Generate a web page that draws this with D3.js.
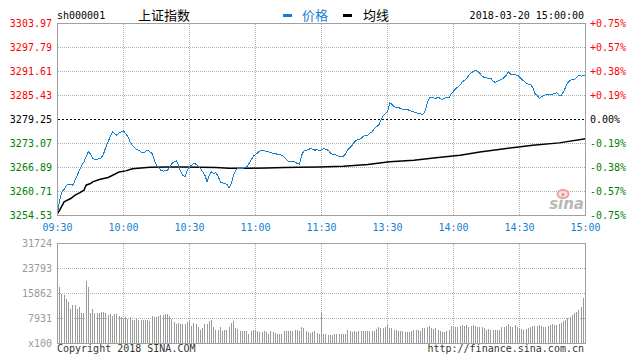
<!DOCTYPE html>
<html>
<head>
<meta charset="utf-8">
<script src="https://cdn.jsdelivr.net/npm/d3@7"></script>
<style>
body { margin: 0; background: #fff; }
svg { display: block; }
text { font-family: "DejaVu Sans Mono", "Liberation Mono", monospace; font-size: 10px; }
</style>
</head>
<body>
<div id="chart"></div>
<script>
// 上证指数 分时 2018-03-20
const prevClose = 3279.25;
const priceTicks = [3303.97, 3297.79, 3291.61, 3285.43, 3279.25, 3273.07, 3266.89, 3260.71, 3254.53];
const pctTicks = ["+0.75%", "+0.57%", "+0.38%", "+0.19%", "0.00%", "-0.19%", "-0.38%", "-0.57%", "-0.75%"];
const timeSlots = [0, 30, 60, 90, 120, 150, 180, 210, 240];
const timeLabels = ["09:30", "10:00", "10:30", "11:00", "11:30", "13:30", "14:00", "14:30", "15:00"];
const volTicks = [31724, 23793, 15862, 7931];

// [minute slot from open, price]
const priceLine = [
  [0,3255.05],[1,3258.47],[2,3260.61],[3,3261.22],[4,3262.33],[6,3262.59],[7,3262.33],[8,3263.62],
  [9,3264.91],[10,3266.19],[11,3267.48],[12,3268.34],[13,3269.63],[14,3270.91],[15,3270.31],[16,3269.20],
  [17,3268.94],[19,3269.11],[20,3269.46],[21,3270.49],[22,3272.20],[23,3273.49],[24,3274.95],[25,3276.06],
  [26,3275.64],[27,3275.21],[28,3275.81],[30,3276.32],[31,3275.64],[32,3274.78],[33,3273.49],[34,3272.63],
  [36,3271.52],[37,3271.35],[38,3270.91],[39,3270.66],[41,3271.35],[42,3270.91],[43,3270.49],[44,3268.77],
  [45,3267.48],[47,3266.19],[48,3265.94],[50,3266.19],[51,3267.05],[52,3267.91],[53,3268.34],[54,3268.60],
  [55,3267.48],[56,3265.76],[57,3264.91],[58,3264.48],[59,3266.19],[60,3267.05],[61,3267.48],[62,3267.91],
  [63,3267.74],[64,3267.22],[65,3266.62],[67,3264.91],[68,3263.19],[69,3264.91],[70,3265.76],[71,3265.34],
  [72,3265.51],[73,3264.65],[74,3263.19],[75,3262.93],[77,3262.59],[78,3261.73],[79,3262.76],[80,3264.91],
  [81,3266.19],[82,3266.62],[84,3266.62],[86,3267.05],[87,3267.91],[88,3268.77],[89,3269.80],[91,3270.66],
  [92,3271.17],[93,3271.35],[94,3271.17],[96,3270.91],[97,3270.66],[100,3270.31],[102,3270.06],[103,3269.63],
  [105,3268.51],[106,3268.34],[108,3268.34],[109,3267.91],[110,3267.74],[111,3270.06],[112,3271.17],[114,3271.52],
  [115,3271.77],[117,3271.35],[118,3271.52],[119,3271.17],[121,3271.77],[122,3271.52],[123,3271.35],[124,3270.66],
  [125,3270.23],[127,3270.06],[128,3269.63],[129,3269.63],[130,3269.80],[131,3270.49],[132,3271.52],[134,3272.63],
  [135,3273.49],[136,3273.92],[138,3274.35],[139,3274.95],[140,3275.21],[141,3275.21],[142,3275.81],[143,3276.06],
  [144,3276.92],[146,3277.78],[147,3279.07],[148,3280.10],[149,3280.79],[150,3281.21],[151,3283.53],[152,3283.19],
  [153,3282.50],[155,3282.33],[157,3281.82],[159,3281.82],[161,3281.39],[162,3281.21],[164,3280.79],[166,3280.61],
  [167,3281.21],[168,3283.36],[169,3284.82],[171,3284.82],[172,3284.65],[173,3285.08],[174,3284.65],[175,3284.39],
  [177,3285.08],[178,3284.82],[179,3285.94],[180,3286.54],[181,3287.22],[182,3287.65],[183,3288.08],[184,3288.94],
  [186,3289.80],[187,3290.66],[188,3291.26],[190,3291.94],[191,3291.69],[192,3291.09],[193,3290.40],[194,3290.06],
  [195,3289.97],[197,3289.80],[198,3289.20],[199,3288.77],[200,3289.11],[202,3289.63],[203,3290.06],[204,3290.66],
  [205,3291.51],[206,3290.91],[207,3290.83],[209,3290.66],[210,3290.23],[211,3289.63],[213,3288.68],[214,3288.34],
  [215,3288.26],[216,3287.48],[217,3285.94],[218,3285.51],[219,3284.65],[220,3285.08],[222,3285.68],[224,3285.77],
  [225,3285.77],[227,3286.11],[228,3285.51],[229,3285.51],[230,3286.36],[231,3287.65],[232,3288.77],[233,3289.37],
  [235,3289.63],[236,3290.06],[237,3290.66],[238,3290.40],[239,3290.49],[240,3290.66]
];

// [minute slot, average price]
const avgLine = [
  [0,3255.05],[1,3255.89],[3,3258.04],[6,3258.90],[8,3259.76],[10,3260.36],[12,3261.04],[13,3262.33],
  [15,3262.76],[16,3263.19],[19,3263.79],[23,3264.31],[26,3265.16],[28,3265.76],[31,3266.02],[34,3266.54],
  [38,3266.79],[42,3266.97],[50,3267.05],[57,3267.05],[65,3266.97],[72,3266.88],[78,3266.71],[88,3266.71],
  [95,3266.79],[103,3266.88],[110,3266.97],[119,3267.05],[130,3267.22],[141,3267.65],[151,3268.34],[162,3268.77],
  [172,3269.37],[183,3270.06],[192,3270.91],[204,3271.77],[216,3272.63],[228,3273.23],[240,3274.32]
];

// 成交量 (x100), slots 1..239
const volumes = [
  17990,15860,15230,13960,13010,11100,12210,12210,10790,11580,9830,9520,19670,17770,9830,10790,9520,9520,9830,10150,
  9990,9520,9040,9360,8720,9200,9200,8570,8410,7930,
  8470,7930,8470,7610,7610,7710,7610,7390,7390,7390,7390,7070,8660,8250,8470,8780,8980,8980,9200,9420,
  8660,7930,6880,6340,6560,6340,6340,6120,6880,7200,
  5710,6440,6030,5080,4350,4760,6030,6340,6980,7300,5390,4440,4440,5080,4120,4440,4440,5080,6660,6980,
  4980,4660,4120,3810,3810,3810,3080,3810,4440,4440,
  3900,3580,3710,3810,3580,3080,4120,3710,3270,3080,3080,3170,4120,4120,4120,4120,4120,4440,4440,3810,
  5080,4980,4120,3580,3390,3580,3810,3390,3080,9520,
  3080,3170,2760,2540,2760,2860,2860,2860,3080,3170,3170,4440,3810,3580,3810,3580,3810,3810,3900,3810,
  4120,4120,4120,4120,4540,5080,4760,4760,5080,5930,
  4760,4760,4440,4440,3810,4120,4120,3580,3580,3580,3900,4220,4440,4440,3900,4760,4980,5080,5490,4980,
  4540,4760,4220,3900,3710,3490,3810,4220,5490,5300,
  5300,5300,5490,5810,5610,5810,5080,5490,5810,5490,5300,5080,5300,4760,4350,4540,4220,4220,4220,4220,
  4220,5300,5300,5610,6120,5490,5080,5810,5390,4760,
  4540,4350,4540,4980,5300,5710,5490,5490,5810,5490,5300,5300,5610,5810,6120,5810,5810,6120,6560,7200,
  7610,8150,8470,8980,9740,10060,10560,11640,14500
];

const W = 635, H = 362;
const plotLeft = 57.5, plotRight = 585.5;
const plotTop = 23.5, plotBottom = 215.5;
const volTop = 243.5, volBottom = 343.5;

const blue = "#1380d2", red = "#ff0000", green = "#008000", frameGray = "#a0a0a0";

const svg = d3.select("#chart").append("svg")
    .attr("width", W)
    .attr("height", H);

const x = d3.scaleLinear().domain([0, 240]).range([plotLeft, plotRight]);
const y = d3.scaleLinear().domain([priceTicks[8], priceTicks[0]]).range([plotBottom, plotTop]);
const vy = d3.scaleLinear().domain([0, volTicks[0]]).range([volBottom, volTop]);

// 头部
svg.append("text").attr("x", 57).attr("y", 19).text("sh000001");
svg.append("text").attr("x", 138).attr("y", 20)
    .style("font-family", "'Noto Sans CJK SC', sans-serif").style("font-size", "13px")
    .text("上证指数");
svg.append("rect").attr("x", 283).attr("y", 14).attr("width", 9).attr("height", 3).attr("fill", blue);
svg.append("text").attr("x", 302).attr("y", 20).attr("fill", blue)
    .style("font-family", "'Noto Sans CJK SC', sans-serif").style("font-size", "13px")
    .text("价格");
svg.append("rect").attr("x", 343).attr("y", 14).attr("width", 9).attr("height", 3).attr("fill", "#000");
svg.append("text").attr("x", 363).attr("y", 20)
    .style("font-family", "'Noto Sans CJK SC', sans-serif").style("font-size", "13px")
    .text("均线");
svg.append("text").attr("x", 584).attr("y", 19).attr("text-anchor", "end").text("2018-03-20 15:00:00");

// 网格
const grid = svg.append("g").attr("shape-rendering", "crispEdges");
grid.selectAll(".hg").data(priceTicks.slice(1, 8)).enter().append("line")
    .attr("x1", plotLeft).attr("x2", plotRight)
    .attr("y1", d => y(d)).attr("y2", d => y(d))
    .attr("stroke", d => d === prevClose ? "#000" : "#b0b0b0")
    .attr("stroke-dasharray", d => d === prevClose ? "2,2" : "1,1");
grid.selectAll(".vg").data(timeSlots.slice(1, 8)).enter().append("line")
    .attr("x1", d => x(d)).attr("x2", d => x(d))
    .attr("y1", plotTop).attr("y2", plotBottom)
    .attr("stroke", "#b0b0b0").attr("stroke-dasharray", "1,1");
grid.selectAll(".vhg").data(volTicks.slice(1)).enter().append("line")
    .attr("x1", plotLeft).attr("x2", plotRight)
    .attr("y1", d => vy(d)).attr("y2", d => vy(d))
    .attr("stroke", "#b0b0b0").attr("stroke-dasharray", "1,1");
grid.selectAll(".vvg").data(timeSlots.slice(1, 8)).enter().append("line")
    .attr("x1", d => x(d)).attr("x2", d => x(d))
    .attr("y1", volTop).attr("y2", volBottom)
    .attr("stroke", "#b0b0b0").attr("stroke-dasharray", "1,1");

// 新浪水印
svg.append("ellipse").attr("cx", 563).attr("cy", 194).attr("rx", 5.5).attr("ry", 4)
    .attr("fill", "#fbe0e0").attr("stroke", "#f0a0a0").attr("stroke-width", 2);
svg.append("circle").attr("cx", 563).attr("cy", 194.5).attr("r", 1.5).attr("fill", "#e88a8a");
svg.append("text").attr("x", 584).attr("y", 209).attr("text-anchor", "end")
    .attr("fill", "#b8b8b8")
    .style("font-family", "'DejaVu Sans', sans-serif").style("font-size", "15px")
    .style("font-style", "italic").style("font-weight", "bold")
    .text("sina");

// 成交量柱
svg.append("g").attr("shape-rendering", "crispEdges")
  .selectAll("rect").data(volumes).enter().append("rect")
    .attr("x", (d, i) => Math.floor(x(i + 1)))
    .attr("y", d => vy(d))
    .attr("width", 1)
    .attr("height", d => volBottom - vy(d))
    .attr("fill", "#9a9a9a");

// 均线、价格线
const line = d3.line().x(d => x(d[0])).y(d => y(d[1]));
svg.append("path").datum(avgLine)
    .attr("d", line)
    .attr("fill", "none").attr("stroke", "#000").attr("stroke-width", 1.5);
svg.append("path").datum(priceLine)
    .attr("d", line)
    .attr("shape-rendering", "crispEdges")
    .attr("fill", "none").attr("stroke", blue).attr("stroke-width", 1);

// 边框
const frame = svg.append("g").attr("fill", "none").attr("stroke", frameGray).attr("shape-rendering", "crispEdges");
frame.append("rect").attr("x", plotLeft).attr("y", plotTop)
    .attr("width", plotRight - plotLeft).attr("height", plotBottom - plotTop);
frame.append("rect").attr("x", plotLeft).attr("y", volTop)
    .attr("width", plotRight - plotLeft).attr("height", volBottom - volTop);

// 左右刻度
const colorOf = d => d > prevClose ? red : d < prevClose ? green : "#000";
svg.selectAll(".pl").data(priceTicks).enter().append("text")
    .attr("x", 52).attr("y", d => y(d)).attr("dy", "0.35em")
    .attr("text-anchor", "end").attr("fill", colorOf)
    .text(d => d.toFixed(2));
svg.selectAll(".pr").data(priceTicks).enter().append("text")
    .attr("x", 590).attr("y", d => y(d)).attr("dy", "0.35em")
    .attr("fill", colorOf)
    .text((d, i) => pctTicks[i]);

// 时间刻度
svg.selectAll(".tl").data(timeSlots).enter().append("text")
    .attr("x", d => x(d)).attr("y", 227).attr("dy", "0.35em")
    .attr("text-anchor", "middle").attr("fill", blue)
    .text((d, i) => timeLabels[i]);

// 成交量刻度
svg.selectAll(".vl").data(volTicks).enter().append("text")
    .attr("x", 52).attr("y", d => vy(d)).attr("dy", "0.35em")
    .attr("text-anchor", "end").attr("fill", "#999")
    .text(d => d);
svg.append("text").attr("x", 52).attr("y", volBottom).attr("dy", "0.35em")
    .attr("text-anchor", "end").attr("fill", "#999").text("x100");

// 底部
svg.append("text").attr("x", 57).attr("y", 352).attr("fill", "#333").text("Copyright 2018 SINA.COM");
svg.append("text").attr("x", 584).attr("y", 352).attr("text-anchor", "end").attr("fill", "#333")
    .text("http://finance.sina.com.cn");
</script>
</body>
</html>
